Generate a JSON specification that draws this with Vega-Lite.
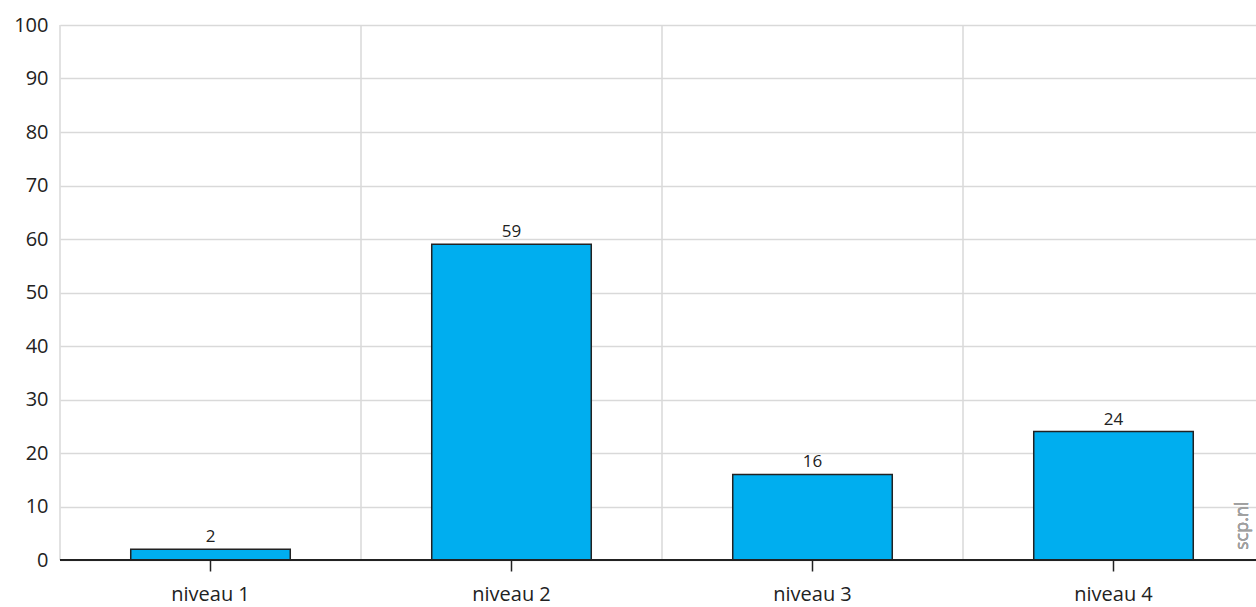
{
  "$schema": "https://vega.github.io/schema/vega-lite/v6.json",
  "autosize": "none",
  "width": 1204,
  "height": 535,
  "padding": {"left": 60, "top": 25, "right": 0, "bottom": 47},
  "background": "white",
  "config": {
    "view": {"stroke": null},
    "font": "Open Sans"
  },
  "data": {
    "values": [
      {"niveau": "niveau 1", "waarde": 2},
      {"niveau": "niveau 2", "waarde": 59},
      {"niveau": "niveau 3", "waarde": 16},
      {"niveau": "niveau 4", "waarde": 24}
    ]
  },
  "layer": [
    {
      "mark": {"type": "rule", "color": "#d9d9d9", "strokeWidth": 1.5},
      "encoding": {
        "x": {"field": "niveau", "type": "nominal", "sort": null, "bandPosition": 0}
      }
    },
    {
      "mark": {"type": "bar", "width": {"band": 0.53}, "fill": "#00aeef", "stroke": "#222222", "strokeWidth": 1.5},
      "encoding": {
        "x": {
          "field": "niveau",
          "type": "nominal",
          "sort": null,
          "scale": {"paddingInner": 0, "paddingOuter": 0},
          "axis": {
            "title": null,
            "labelAngle": 0,
            "labelAlign": "center",
            "labelBaseline": "top",
            "labelFontSize": 20,
            "labelColor": "#222222",
            "labelPadding": 13,
            "domain": false,
            "ticks": true,
            "tickColor": "#222222",
            "tickSize": 11,
            "tickWidth": 1.5,
            "bandPosition": 0.5,
            "grid": false
          }
        },
        "y": {
          "field": "waarde",
          "type": "quantitative",
          "scale": {"domain": [0, 100], "nice": false},
          "axis": {
            "title": null,
            "values": [0, 10, 20, 30, 40, 50, 60, 70, 80, 90, 100],
            "labelFontSize": 20,
            "labelColor": "#222222",
            "labelPadding": 12,
            "ticks": false,
            "domain": false,
            "grid": true,
            "gridColor": "#d9d9d9",
            "gridWidth": 1.5
          }
        }
      }
    },
    {
      "mark": {"type": "text", "fontSize": 17, "color": "#222222", "baseline": "alphabetic", "dy": -7},
      "encoding": {
        "x": {"field": "niveau", "type": "nominal", "sort": null},
        "y": {"field": "waarde", "type": "quantitative"},
        "text": {"field": "waarde", "type": "quantitative"}
      }
    },
    {
      "mark": {"type": "rule", "color": "#222222", "strokeWidth": 1.5},
      "encoding": {"y": {"datum": 0}}
    },
    {
      "mark": {"type": "text", "fontSize": 18, "color": "#a0a0a0", "angle": 270, "align": "left", "baseline": "middle", "xOffset": -21, "yOffset": -10},
      "encoding": {
        "x": {"datum": "niveau 4", "type": "nominal", "bandPosition": 1},
        "y": {"datum": 0},
        "text": {"value": "scp.nl"}
      }
    }
  ]
}
